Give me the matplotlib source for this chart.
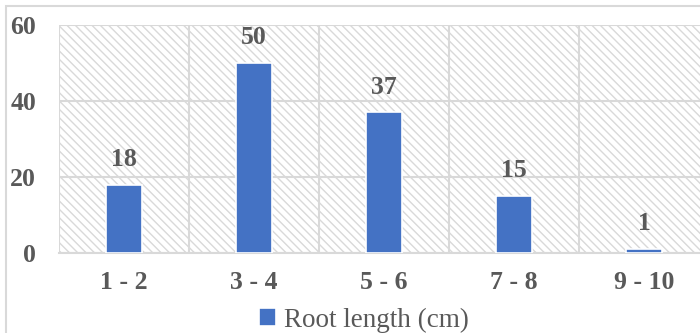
import numpy as np
import matplotlib
matplotlib.use("Agg")
from matplotlib import pyplot as plt
from matplotlib.patches import Rectangle

# root length classes and counts
categories = ["1 - 2", "3 - 4", "5 - 6", "7 - 8", "9 - 10"]
counts = [18, 50, 37, 15, 1]
yticks = [0, 20, 40, 60]
series_name = "Root length (cm)"

bar_clr = "#4472C4"
txt_clr = "#595959"
grid_clr = "#d9d9d9"

plt.rcParams["font.family"] = ["Liberation Serif", "DejaVu Serif"]
plt.rcParams["hatch.linewidth"] = 1.0

fig = plt.figure(figsize=(7, 3.33), dpi=100)
# axes runs past the right edge, as in the cropped original
ax = fig.add_axes([59 / 700, 1 - 253 / 333, 650 / 700, 228 / 333])

# outer chart border (cropped at right/bottom)
fig.patches.append(Rectangle((6 / 700, -0.1), 1.2, 1 - 6 / 333 + 0.1,
                             transform=fig.transFigure, fill=False,
                             edgecolor=grid_clr, lw=1.5, zorder=0))

ax.add_patch(Rectangle((0, 0), 1, 1, transform=ax.transAxes, fill=False,
                       hatch="\\\\\\\\", edgecolor=grid_clr, lw=0, zorder=0))

xs = np.arange(len(categories))
bars = ax.bar(xs, counts, width=0.27, color=bar_clr, edgecolor="white",
              linewidth=1.2, zorder=3, label=series_name)

for x, v in zip(xs, counts):
    ax.annotate(str(v), (x, v), xytext=(0, 10), textcoords="offset points",
                ha="center", va="bottom", fontsize=18.5, fontweight="bold",
                color=txt_clr)

ax.set_xlim(-0.5, 4.5)
ax.set_ylim(0, 60)
ax.set_yticks(yticks)
ax.set_xticks(xs)
ax.set_xticklabels(categories)
ax.set_xticks(np.arange(-0.5, 5, 1), minor=True)
ax.grid(True, which="minor", axis="x", color=grid_clr, lw=1.5, zorder=1)
ax.grid(True, which="major", axis="y", color=grid_clr, lw=1.5, zorder=1)

for s in ["top", "right", "left"]:
    ax.spines[s].set_visible(False)
ax.spines["bottom"].set_color(grid_clr)
ax.spines["bottom"].set_linewidth(1.5)

ax.tick_params(axis="both", which="both", length=0)
ax.tick_params(axis="y", pad=16.5, labelsize=18.5, labelcolor=txt_clr)
ax.tick_params(axis="x", pad=13, labelsize=18.5, labelcolor=txt_clr)
for lbl in ax.get_xticklabels() + ax.get_yticklabels():
    lbl.set_fontweight("bold")

leg = fig.legend(handles=[bars], labels=[series_name], loc="center",
                 bbox_to_anchor=(364 / 700, 1 - 320 / 333), frameon=False,
                 fontsize=19.5, handlelength=0.65, handleheight=0.65,
                 handletextpad=0.3, labelcolor=txt_clr)

fig.savefig("out.png", dpi=100)
